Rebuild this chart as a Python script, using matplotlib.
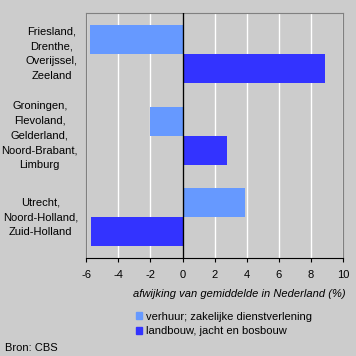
import matplotlib
matplotlib.use("Agg")
import matplotlib.pyplot as plt
import matplotlib.transforms as mtransforms
from matplotlib.patches import Patch

# Data
regions = [
    "Friesland,\nDrenthe,\nOverijssel,\nZeeland",
    "Groningen,\nFlevoland,\nGelderland,\nNoord-Brabant,\nLimburg",
    "Utrecht,\nNoord-Holland,\nZuid-Holland",
]
verhuur = [-5.8, -2.0, 3.9]
landbouw = [8.9, 2.8, -5.7]
series_labels = ["verhuur; zakelijke dienstverlening", "landbouw, jacht en bosbouw"]
xticks = [-6, -4, -2, 0, 2, 4, 6, 8, 10]

BG = "#cccccc"
LIGHT = "#6699ff"
DARK = "#3333ff"

plt.rcParams["font.family"] = ["Liberation Sans", "DejaVu Sans"]
plt.rcParams["font.size"] = 8

fig = plt.figure(figsize=(3.56, 3.56), dpi=100, facecolor=BG)
ax = fig.add_axes([0.2424, 0.2753, 0.7211, 0.6873], facecolor=BG)

h = 0.355
pos = list(range(len(regions)))
ax.barh([p - h / 2 for p in pos], verhuur, height=h, color=LIGHT, zorder=3)
ax.barh([p + h / 2 for p in pos], landbouw, height=h, color=DARK, zorder=3)

ax.set_xlim(-6, 10)
ax.set_ylim(2.5, -0.5)
ax.set_xticks(xticks)
ax.set_xticklabels([str(t) for t in xticks])
ax.xaxis.grid(True, color="white", linewidth=1, zorder=1)
ax.axvline(0, color="black", linewidth=1, zorder=4)

ax.set_yticks(pos)
ax.set_yticklabels(regions, multialignment="center", linespacing=1.6)
ax.tick_params(axis="y", length=0, pad=6)
ax.tick_params(axis="x", length=3, direction="out", color="black", pad=6)
# nudge region labels up a little
shift = mtransforms.ScaledTranslation(0, 3.5 / 100, fig.dpi_scale_trans)
for lbl in ax.get_yticklabels():
    lbl.set_transform(lbl.get_transform() + shift)

for side in ["top", "right", "left"]:
    ax.spines[side].set_color("#808080")
ax.spines["bottom"].set_color("black")

fig.text(0.972, 0.175, "afwijking van gemiddelde in Nederland (%)",
         ha="right", va="center", style="italic")

handles = [Patch(color=LIGHT, label=series_labels[0]),
           Patch(color=DARK, label=series_labels[1])]
fig.legend(handles=handles, loc="upper left", bbox_to_anchor=(0.381, 0.125),
           frameon=False, handlelength=0.6, handleheight=0.6,
           handletextpad=0.35, labelspacing=0.4, borderpad=0, borderaxespad=0)

fig.text(0.014, 0.022, "Bron: CBS", ha="left", va="center")

fig.savefig("out.png", dpi=100, facecolor=BG)
